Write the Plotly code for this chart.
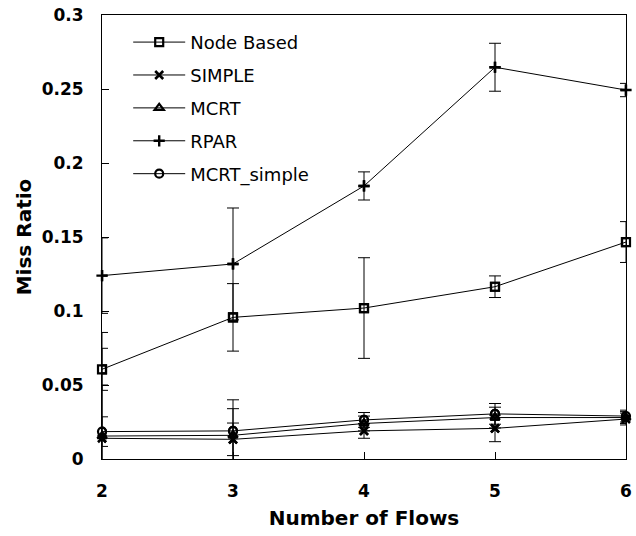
import plotly.graph_objects as go

flows = [2, 3, 4, 5, 6]

node_based = [0.0606, 0.0957, 0.1020, 0.1164, 0.1466]
node_based_err = [0.0142, 0.0228, 0.0340, 0.0073, 0.0138]

simple = [0.0140, 0.0133, 0.0190, 0.0207, 0.0270]
simple_err = [0.0360, 0.0110, 0.0050, 0.0090, 0.0040]

mcrt = [0.0155, 0.0160, 0.0240, 0.0280, 0.0280]
mcrt_err = [0.0700, 0.0180, 0.0050, 0.0070, 0.0040]

rpar = [0.1239, 0.1318, 0.1845, 0.2647, 0.2493]
rpar_err = [0.0255, 0.0378, 0.0095, 0.0162, 0.0045]

mcrt_simple = [0.0185, 0.0190, 0.0264, 0.0305, 0.0290]
mcrt_simple_err = [0.0100, 0.0210, 0.0050, 0.0070, 0.0040]

y_ticks = [0, 0.05, 0.1, 0.15, 0.2, 0.25, 0.3]
y_tick_text = ["0", "0.05", "0.1", "0.15", "0.2", "0.25", "0.3"]

series = [
    ("Node Based", node_based, node_based_err, "square-open", 8, 2.2),
    ("SIMPLE", simple, simple_err, "x-thin-open", 8, 2.6),
    ("MCRT", mcrt, mcrt_err, "triangle-up-open", 8, 2.2),
    ("RPAR", rpar, rpar_err, "cross-thin-open", 8, 2.4),
    ("MCRT_simple", mcrt_simple, mcrt_simple_err, "circle-open", 8, 2.2),
]

fig = go.Figure()
for name, vals, errs, sym, size, lw in series:
    fig.add_trace(go.Scatter(
        x=flows, y=vals, name=name, mode="lines+markers",
        legendgroup=name,
        line=dict(color="black", width=1),
        marker=dict(symbol=sym, size=size, color="black",
                    line=dict(color="black", width=lw)),
        error_y=dict(type="data", array=errs, visible=True,
                     color="black", thickness=1, width=6),
        cliponaxis=True,
    ))
for name, vals, errs, sym, size, lw in series:
    fig.add_trace(go.Scatter(
        x=flows, y=vals, mode="markers", showlegend=False,
        marker=dict(symbol=sym, size=size, color="black",
                    line=dict(color="black", width=lw)),
        cliponaxis=False, hoverinfo="skip",
    ))

fig.update_layout(
    width=636, height=536,
    margin=dict(l=102, r=4, t=15, b=77),
    paper_bgcolor="white", plot_bgcolor="white",
    font=dict(family="DejaVu Sans", color="black"),
    showlegend=True,
    legend=dict(
        x=0.05, y=0.98, xanchor="left", yanchor="top",
        bgcolor="rgba(0,0,0,0)", borderwidth=0,
        font=dict(family="DejaVu Sans", size=18, color="black"),
        traceorder="grouped", tracegroupgap=6.5, itemwidth=52,
    ),
    xaxis=dict(
        range=[2, 6], tickvals=flows, ticktext=[str(v) for v in flows],
        ticks="inside", ticklen=7, tickcolor="black", tickwidth=1,
        showline=True, linecolor="black", linewidth=1, mirror=True,
        showgrid=False, zeroline=False, ticklabeloverflow="allow",
        tickfont=dict(family="DejaVu Sans", size=17, color="black", weight="bold"),
        ticklabelstandoff=17,
        title=dict(text="<b>Number of Flows</b>", standoff=10,
                   font=dict(family="DejaVu Sans", size=20, color="black")),
    ),
    yaxis=dict(
        range=[0, 0.3], tickvals=y_ticks, ticktext=y_tick_text,
        ticks="inside", ticklen=7, tickcolor="black", tickwidth=1,
        showline=True, linecolor="black", linewidth=1, mirror=True,
        showgrid=False, zeroline=False,
        tickfont=dict(family="DejaVu Sans", size=17, color="black", weight="bold"),
        ticklabelstandoff=14,
        title=dict(text="<b>Miss Ratio</b>", standoff=4,
                   font=dict(family="DejaVu Sans", size=20, color="black")),
    ),
)

fig.write_html("out.html")
